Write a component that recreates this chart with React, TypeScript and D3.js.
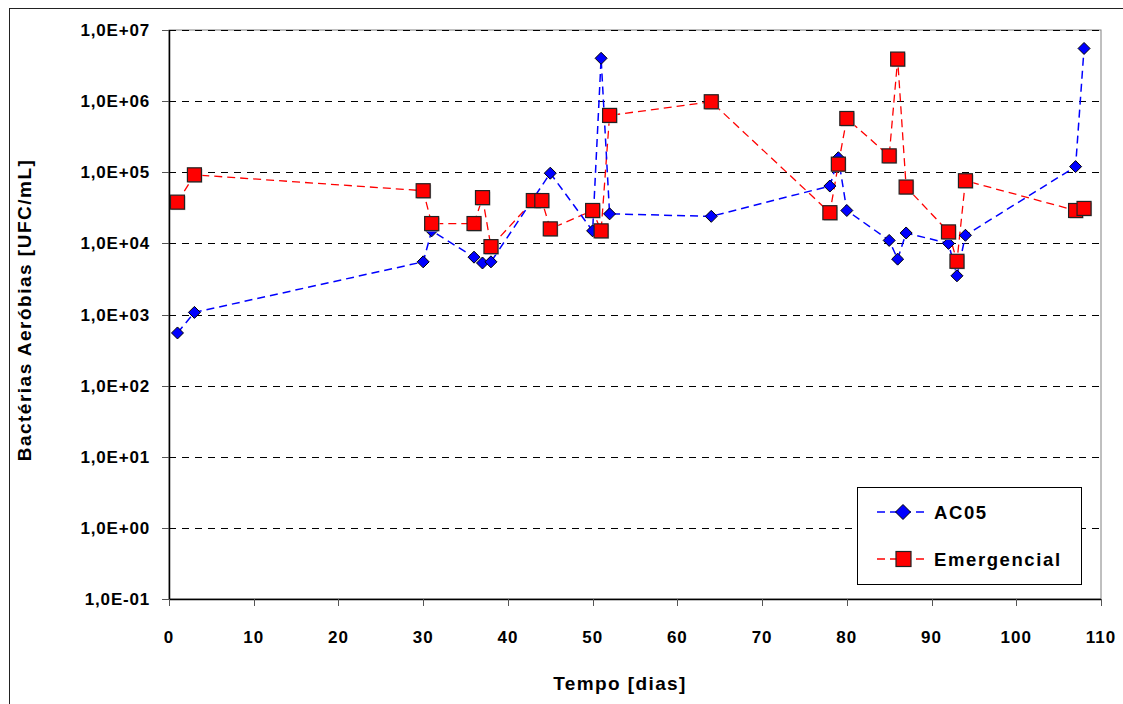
import React, { useEffect, useRef } from 'react';
import * as d3 from 'd3';

// AC05 series (diamonds)
const ac05Days = [1, 3, 30, 31, 36, 37, 38, 45, 50, 51, 52, 64, 78, 79, 80, 85, 86, 87, 92, 93, 94, 107, 108];
const ac05Values = [550, 1070, 5500, 15000, 6400, 5300, 5500, 97000, 15000, 4000000, 26000, 24000, 64000, 160000, 29000, 11000, 6000, 14000, 10000, 3500, 13000, 120000, 5500000];

// Emergencial series (squares)
const emDays = [1, 3, 30, 31, 36, 37, 38, 43, 44, 45, 50, 51, 52, 64, 78, 79, 80, 85, 86, 87, 92, 93, 94, 107, 108];
const emValues = [38000, 92000, 55000, 19000, 19000, 44000, 9000, 40000, 40000, 16000, 29000, 15000, 630000, 980000, 27000, 130000, 570000, 170000, 3900000, 62000, 14500, 5600, 76000, 29000, 31000];

const xTicks = [0, 10, 20, 30, 40, 50, 60, 70, 80, 90, 100, 110];
const yTicks = [1e-1, 1e0, 1e1, 1e2, 1e3, 1e4, 1e5, 1e6, 1e7];
const yTickLabels = ['1,0E-01', '1,0E+00', '1,0E+01', '1,0E+02', '1,0E+03', '1,0E+04', '1,0E+05', '1,0E+06', '1,0E+07'];

const FONT = 'Liberation Sans, Arial, sans-serif';

const App = () => {
  const ref = useRef<SVGSVGElement>(null);

  useEffect(() => {
    const svg = d3.select(ref.current);
    svg.selectAll('*').remove();

    const left = 169, top = 30, right = 1101, bottom = 599;
    const x = d3.scaleLinear().domain([0, 110]).range([left, right]);
    const y = d3.scaleLog().domain([1e-1, 1e7]).range([bottom, top]);

    // outer chart border
    svg.append('rect')
      .attr('x', 9.5).attr('y', 8.5).attr('width', 1130).attr('height', 710)
      .attr('fill', 'white').attr('stroke', '#222').attr('stroke-width', 1);

    // plot area border (gray)
    svg.append('rect')
      .attr('x', left).attr('y', top).attr('width', right - left).attr('height', bottom - top)
      .attr('fill', 'none').attr('stroke', '#808080').attr('stroke-width', 1);

    // grid lines
    svg.append('g').selectAll('line')
      .data(yTicks.slice(1))
      .enter().append('line')
      .attr('x1', left).attr('x2', right)
      .attr('y1', d => Math.round(y(d)) + 0.5).attr('y2', d => Math.round(y(d)) + 0.5)
      .attr('stroke', '#000').attr('stroke-dasharray', '7,6').attr('stroke-width', 1);

    // y axis
    svg.append('line')
      .attr('x1', left + 0.5).attr('x2', left + 0.5).attr('y1', top).attr('y2', bottom)
      .attr('stroke', '#000').attr('stroke-width', 1.5);
    svg.append('g').selectAll('line')
      .data(yTicks)
      .enter().append('line')
      .attr('x1', left - 7).attr('x2', left)
      .attr('y1', d => Math.round(y(d)) + 0.5).attr('y2', d => Math.round(y(d)) + 0.5)
      .attr('stroke', '#555');
    svg.append('g').selectAll('text')
      .data(yTicks)
      .enter().append('text')
      .attr('x', 150).attr('y', d => y(d) + 6)
      .attr('text-anchor', 'end')
      .attr('font-family', FONT).attr('font-weight', 'bold').attr('font-size', 17)
      .attr('letter-spacing', 0.8)
      .text((d, i) => yTickLabels[i]);

    // x axis
    svg.append('line')
      .attr('x1', left).attr('x2', right).attr('y1', bottom + 0.5).attr('y2', bottom + 0.5)
      .attr('stroke', '#000').attr('stroke-width', 1.5);
    svg.append('g').selectAll('line')
      .data(xTicks)
      .enter().append('line')
      .attr('x1', d => Math.round(x(d)) + 0.5).attr('x2', d => Math.round(x(d)) + 0.5)
      .attr('y1', bottom).attr('y2', bottom + 7)
      .attr('stroke', '#555');
    svg.append('g').selectAll('text')
      .data(xTicks)
      .enter().append('text')
      .attr('x', d => x(d)).attr('y', 643)
      .attr('text-anchor', 'middle')
      .attr('font-family', FONT).attr('font-weight', 'bold').attr('font-size', 17)
      .attr('letter-spacing', 1)
      .text(d => d);

    // axis titles
    svg.append('text')
      .attr('x', 620).attr('y', 690)
      .attr('text-anchor', 'middle')
      .attr('font-family', FONT).attr('font-weight', 'bold').attr('font-size', 19)
      .attr('letter-spacing', 1.4)
      .text('Tempo [dias]');
    svg.append('text')
      .attr('transform', 'translate(31,310) rotate(-90)')
      .attr('text-anchor', 'middle')
      .attr('font-family', FONT).attr('font-weight', 'bold').attr('font-size', 19)
      .attr('letter-spacing', 1.5)
      .text('Bactérias Aeróbias [UFC/mL]');

    const line = d3.line<[number, number]>()
      .x(d => x(d[0]))
      .y(d => y(d[1]));

    const ac05 = ac05Days.map((d, i) => [d, ac05Values[i]] as [number, number]);
    const em = emDays.map((d, i) => [d, emValues[i]] as [number, number]);

    // Emergencial line
    svg.append('path')
      .datum(em)
      .attr('d', line)
      .attr('fill', 'none').attr('stroke', '#ff0000').attr('stroke-width', 1.3)
      .attr('stroke-dasharray', '8,5');
    // AC05 line
    svg.append('path')
      .datum(ac05)
      .attr('d', line)
      .attr('fill', 'none').attr('stroke', '#0000ff').attr('stroke-width', 1.5)
      .attr('stroke-dasharray', '8,5');

    const diamond = (cx: number, cy: number, r: number) =>
      `M${cx},${cy - r}L${cx + r},${cy}L${cx},${cy + r}L${cx - r},${cy}Z`;

    svg.append('g').selectAll('path')
      .data(ac05)
      .enter().append('path')
      .attr('d', d => diamond(x(d[0]), y(d[1]), 6))
      .attr('fill', '#0000ff').attr('stroke', '#000').attr('stroke-width', 1);

    // square markers with faint shadow
    svg.append('g').selectAll('rect')
      .data(em)
      .enter().append('rect')
      .attr('x', d => x(d[0]) - 6).attr('y', d => y(d[1]) - 6)
      .attr('width', 14).attr('height', 14)
      .attr('fill', '#bbb');
    svg.append('g').selectAll('rect')
      .data(em)
      .enter().append('rect')
      .attr('x', d => x(d[0]) - 7).attr('y', d => y(d[1]) - 7)
      .attr('width', 14).attr('height', 14)
      .attr('fill', '#ff0000').attr('stroke', '#222').attr('stroke-width', 1.2);

    // legend
    const lg = svg.append('g');
    lg.append('rect')
      .attr('x', 857.5).attr('y', 487.5).attr('width', 224).attr('height', 97)
      .attr('fill', 'white').attr('stroke', '#000').attr('stroke-width', 1);
    const items = [
      { label: 'AC05', color: '#0000ff', y: 512, kind: 'diamond' },
      { label: 'Emergencial', color: '#ff0000', y: 559, kind: 'square' },
    ];
    items.forEach(it => {
      lg.append('line')
        .attr('x1', 877).attr('x2', 929).attr('y1', it.y).attr('y2', it.y)
        .attr('stroke', it.color).attr('stroke-width', 1.5).attr('stroke-dasharray', '8,5');
      if (it.kind === 'diamond') {
        lg.append('path').attr('d', diamond(903, it.y, 7.5))
          .attr('fill', it.color).attr('stroke', '#000');
      } else {
        lg.append('rect').attr('x', 896).attr('y', it.y - 7.5).attr('width', 15).attr('height', 15)
          .attr('fill', it.color).attr('stroke', '#222').attr('stroke-width', 1.2);
      }
      lg.append('text')
        .attr('x', 934).attr('y', it.y + 6.5)
        .attr('font-family', FONT).attr('font-weight', 'bold').attr('font-size', 18.5)
        .attr('letter-spacing', 1.6)
        .text(it.label);
    });
  }, []);

  return (
    <svg
      ref={ref}
      width={1123}
      height={704}
      style={{ position: 'absolute', left: 0, top: 0, background: 'white' }}
    />
  );
};

export default App;
